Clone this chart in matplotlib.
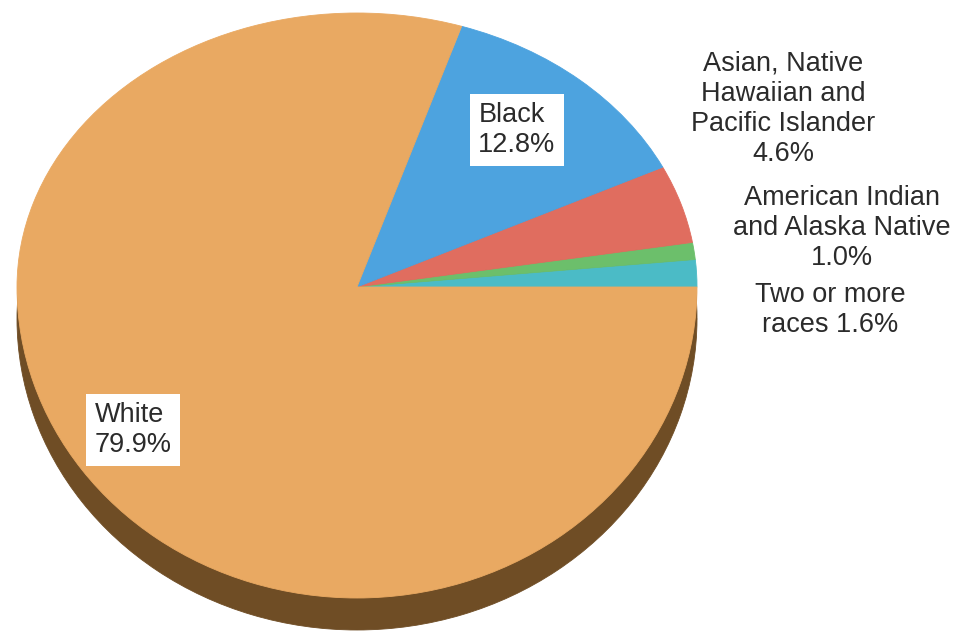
import numpy as np
import matplotlib
matplotlib.use('Agg')
import matplotlib.pyplot as plt

# data, counter-clockwise from 3 o'clock
groups = ['Two or more races', 'American Indian and Alaska Native',
          'Asian, Native Hawaiian and Pacific Islander', 'Black', 'White']
shares = [1.6, 1.0, 4.6, 12.8, 79.9]
colors = ['#4BBBC6', '#6CBF6B', '#E06D5F', '#4DA3DF', '#E9A962']
side_color = '#6F4D25'

plt.rcParams['font.family'] = ['Liberation Sans', 'DejaVu Sans']

W, H = 960, 635
fig = plt.figure(figsize=(W / 100, H / 100), dpi=100)
ax = fig.add_axes([0, 0, 1, 1])

# tilted look: the near (lower) half is taller than the far half
k = 311 / 274


def fwd(y):
    y = np.asarray(y, dtype=float)
    return np.where(y >= 0, y, y * k)


def inv(y):
    y = np.asarray(y, dtype=float)
    return np.where(y >= 0, y, y / k)


ax.set_yscale('function', functions=(fwd, inv))

depth = 32 / 311
# side of the disc
ax.pie(shares, colors=[side_color] * len(shares), startangle=0, center=(0, -depth),
       wedgeprops=dict(linewidth=0.6, edgecolor=side_color))
# top face
wedges, _ = ax.pie(shares, colors=colors, startangle=0, counterclock=True,
                   wedgeprops=dict(linewidth=0.6))
for w in wedges:
    w.set_edgecolor(w.get_facecolor())

ax.set_aspect('auto')
cx, cy, rx, ry = 357, 287, 340, 274
ax.set_xlim(-cx / rx, (W - cx) / rx)
ax.set_ylim(-(H - cy) / ry / k, cy / ry)
ax.axis('off')

txt = dict(fontsize=19.5, color='#2b2b2b', transform=fig.transFigure)
box = dict(boxstyle='square,pad=0.3', fc='white', ec='none')


def px(x, y):
    return x / W, 1 - y / H


fig.text(*px(517, 130), f'Black\n{shares[3]:.1f}%', ha='center', va='center',
         multialignment='left', bbox=box, **txt)
fig.text(*px(133, 430), f'White\n{shares[4]:.1f}%', ha='center', va='center',
         multialignment='left', bbox=box, **txt)
fig.text(*px(783, 109), f'Asian, Native\nHawaiian and\nPacific Islander\n{shares[2]:.1f}%',
         ha='center', va='center', **txt)
fig.text(*px(842, 228), f'American Indian\nand Alaska Native\n{shares[1]:.1f}%',
         ha='center', va='center', **txt)
fig.text(*px(830, 310), f'Two or more\nraces {shares[0]:.1f}%',
         ha='center', va='center', **txt)

fig.savefig('out.png', dpi=100)
